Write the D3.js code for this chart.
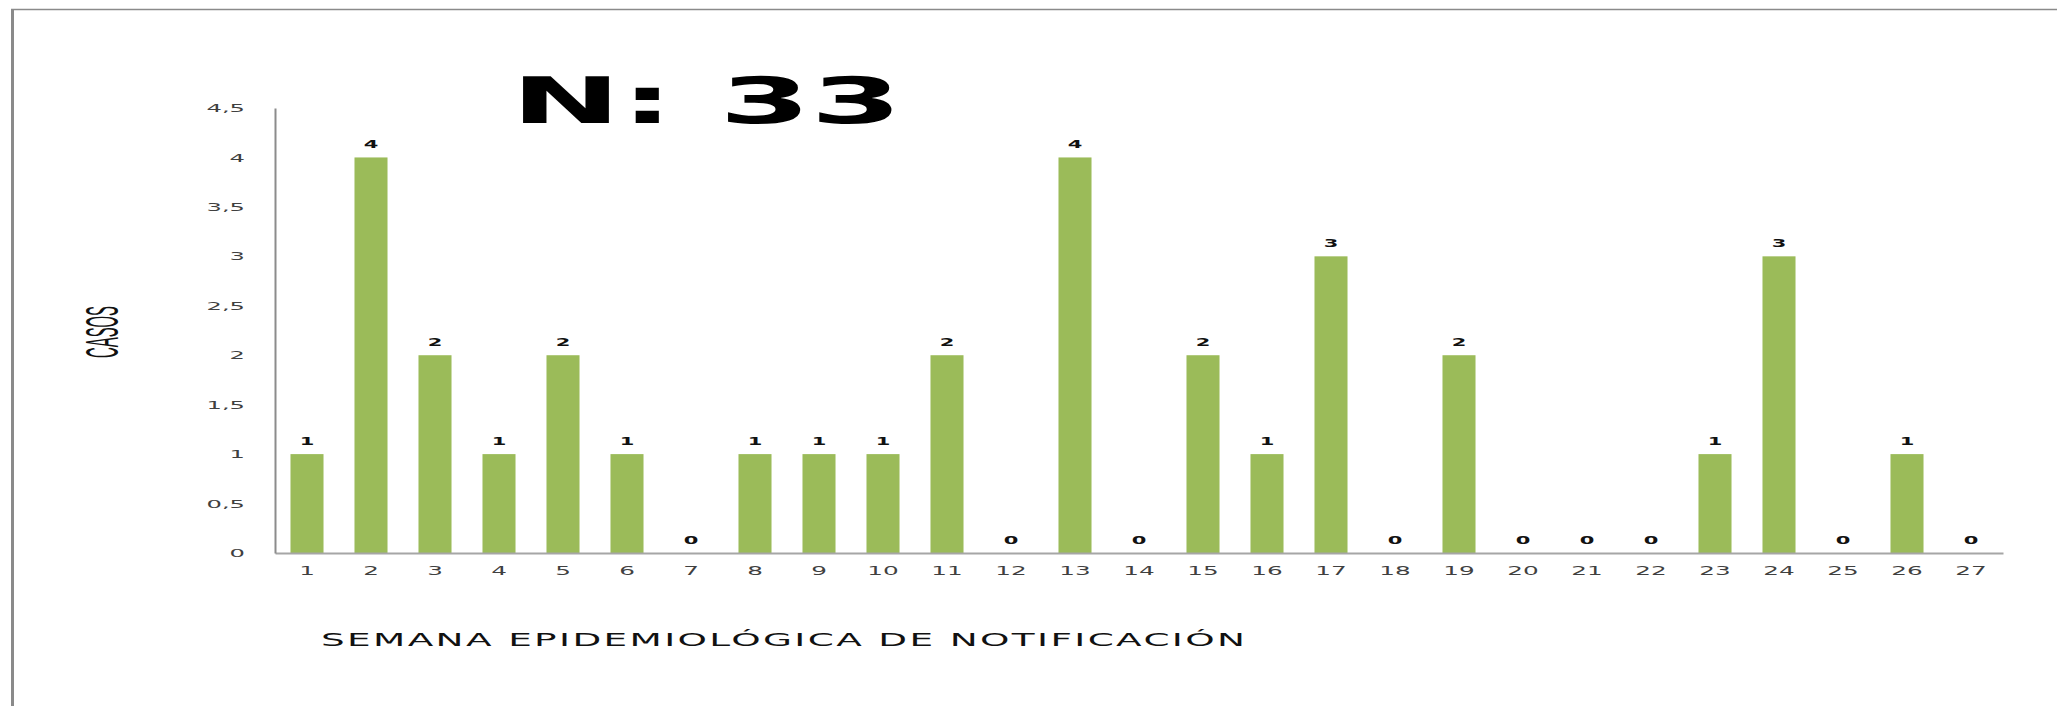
<!DOCTYPE html>
<html>
<head>
<meta charset="utf-8">
<script src="https://cdn.jsdelivr.net/npm/d3@7"></script>
<style>
  html, body { margin: 0; padding: 0; background: #fff; }
  svg { display: block; }
</style>
</head>
<body>
<script>
// ---- data ----
const weeks = ["1","2","3","4","5","6","7","8","9","10","11","12","13","14","15","16","17","18","19","20","21","22","23","24","25","26","27"];
const cases = [1,4,2,1,2,1,0,1,1,1,2,0,4,0,2,1,3,0,2,0,0,0,1,3,0,1,0];
const yTicks = [0,0.5,1,1.5,2,2.5,3,3.5,4,4.5];
const yTickLabels = ["0","0,5","1","1,5","2","2,5","3","3,5","4","4,5"];
const titleText = "N: 33";
const xTitle = "SEMANA EPIDEMIOLÓGICA DE NOTIFICACIÓN";
const yTitle = "CASOS";

const W = 2057, H = 706;
const svg = d3.select("body").append("svg").attr("width", W).attr("height", H);

// frame lines
svg.append("line").attr("x1", 12.5).attr("x2", 12.5).attr("y1", 9).attr("y2", H)
  .attr("stroke", "#8a8a8a").attr("stroke-width", 3);
svg.append("line").attr("x1", 11).attr("x2", W).attr("y1", 9.5).attr("y2", 9.5)
  .attr("stroke", "#8a8a8a").attr("stroke-width", 1.5);

const x = d3.scaleBand().domain(weeks).range([275, 2003]).paddingInner(0.484).paddingOuter(0.242);
const y = d3.scaleLinear().domain([0, 4.5]).range([553, 108]);

// bars
svg.append("g").selectAll("rect").data(weeks).join("rect")
  .attr("x", d => x(d))
  .attr("width", x.bandwidth())
  .attr("y", (d, i) => y(cases[i]))
  .attr("height", (d, i) => y(0) - y(cases[i]))
  .attr("fill", "#9bbb59");

// x axis
const gx = svg.append("g").attr("transform", `translate(0,${y(0)})`)
  .call(d3.axisBottom(x).tickSize(0).tickSizeOuter(0));
gx.select(".domain").attr("stroke", "#a6a6a6").attr("stroke-width", 2);
gx.selectAll("text")
  .attr("y", 0).attr("dy", 0)
  .attr("transform", "translate(0,22) scale(1.9,1)")
  .attr("font-family", "DejaVu Sans").attr("font-size", 13)
  .attr("fill", "#404040");

// y axis
const gy = svg.append("g").attr("transform", `translate(275,0)`)
  .call(d3.axisLeft(y).tickValues(yTicks).tickSize(0).tickSizeOuter(0)
    .tickFormat((d, i) => yTickLabels[i]));
gy.select(".domain").attr("stroke", "#8c8c8c").attr("stroke-width", 2);
gy.selectAll("text")
  .attr("x", 0).attr("dy", "0.33em")
  .attr("transform", "translate(-30,0) scale(2.2,1)")
  .attr("font-family", "DejaVu Sans").attr("font-size", 11)
  .attr("fill", "#404040");

// data labels
svg.append("g").selectAll("text").data(weeks).join("text")
  .attr("transform", (d, i) => `translate(${x(d) + x.bandwidth() / 2},${y(cases[i]) - 9}) scale(2.1,1)`)
  .attr("text-anchor", "middle")
  .attr("font-family", "DejaVu Sans").attr("font-weight", "bold").attr("font-size", 10)
  .attr("fill", "#111")
  .text((d, i) => cases[i]);

// title
svg.append("text")
  .attr("x", 511).attr("y", 123)
  .attr("font-family", "DejaVu Sans").attr("font-weight", "bold").attr("font-size", 64)
  .attr("textLength", 391).attr("lengthAdjust", "spacingAndGlyphs")
  .attr("fill", "#000")
  .text(titleText);

// x title
svg.append("text")
  .attr("transform", "translate(321,646) scale(2.2,1)")
  .attr("font-family", "DejaVu Sans").attr("font-size", 17)
  .attr("textLength", 924 / 2.2).attr("lengthAdjust", "spacing")
  .attr("fill", "#111")
  .text(xTitle);

// y title
svg.append("text")
  .attr("transform", "translate(118,332) rotate(-90)")
  .attr("text-anchor", "middle")
  .attr("font-family", "Liberation Sans").attr("font-size", 46)
  .attr("textLength", 52).attr("lengthAdjust", "spacingAndGlyphs")
  .attr("fill", "#111")
  .text(yTitle);
</script>
</body>
</html>
